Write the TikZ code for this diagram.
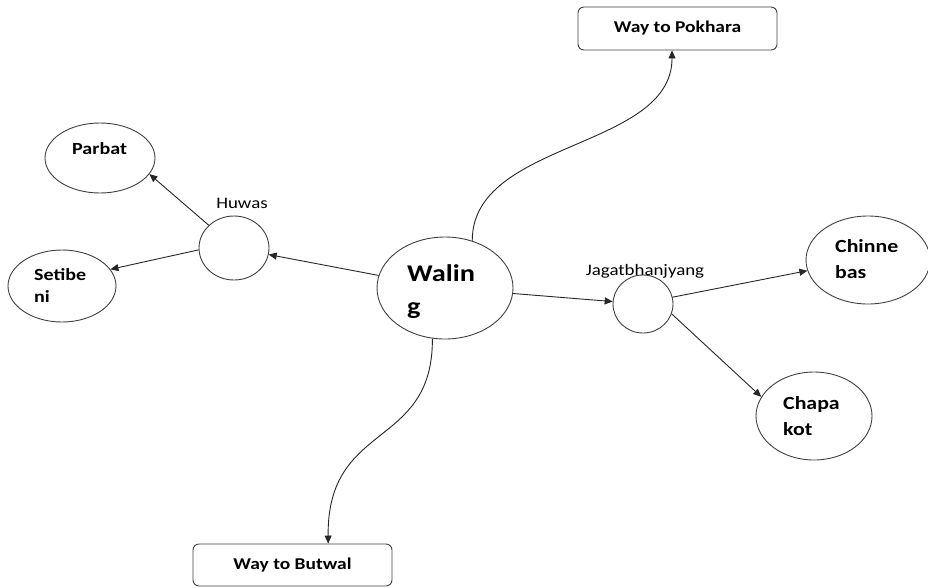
\documentclass[tikz,border=0pt]{standalone}
\usepackage{fontspec}
\setmainfont{Carlito}[FakeStretch=1.18]
\usetikzlibrary{arrows.meta,shapes.geometric}
\begin{document}
\begin{tikzpicture}[x=1pt,y=-1pt,
  outline/.style={draw=black!75, line width=0.9pt},
  place/.style={ellipse, outline, inner sep=0pt},
  road/.style={rectangle, rounded corners=6pt, outline, minimum width=199pt, minimum height=43pt, font=\bfseries\fontsize{16.5}{19}\selectfont},
  boldlabel/.style={anchor=west, inner sep=0pt, align=left},
  plainlabel/.style={inner sep=0pt, font=\fontsize{16}{19}\selectfont},
  link/.style={draw=black!85, line width=0.9pt, -{Triangle[length=8pt,width=7pt]}}]
\useasboundingbox (0,0) rectangle (928,587);

% boxes
\node[road] (pok) at (677.5,28.5) {Way to Pokhara};
\node[road, minimum height=42pt] (but) at (292.5,565) {Way to Butwal};

% ellipses
\node[place, minimum width=110pt, minimum height=70pt] (par) at (100,158) {};
\node[place, minimum width=70pt, minimum height=64pt] (huw) at (234,248) {};
\node[place, minimum width=108pt, minimum height=72pt] (set) at (62,286) {};
\node[place, minimum width=136pt, minimum height=102pt] (wal) at (445,288) {};
\node[place, minimum width=60pt, minimum height=58pt] (jag) at (643,304) {};
\node[place, minimum width=124pt, minimum height=88pt] (chi) at (868,260) {};
\node[place, minimum width=116pt, minimum height=88pt] (cha) at (814,416) {};

% texts
\node[boldlabel, font=\bfseries\fontsize{17}{20}\selectfont] (tpar) at (72,149) {Parbat};
\node[boldlabel, font=\bfseries\fontsize{17}{22}\selectfont] (tset) at (34,286) {Setibe\\ni};
\node[boldlabel, font=\bfseries\fontsize{24}{33}\selectfont] (twal) at (407,292) {Walin\\g};
\node[boldlabel, font=\bfseries\fontsize{18.5}{26}\selectfont] (tchi) at (835,259) {Chinne\\bas};
\node[boldlabel, font=\bfseries\fontsize{18.5}{26}\selectfont] (tcha) at (783,416) {Chapa\\kot};
\node[plainlabel] (thuw) at (242,203) {Huwas};
\node[plainlabel] (tjag) at (645,271) {Jagatbhanjyang};

% connectors
\draw[link] (wal) -- (huw);
\draw[link] (huw.138) -- (par.-18);
\draw[link] (huw.183) -- (set.19);
\draw[link] (wal) -- (jag);
\draw[link] (jag.13) -- (chi.190);
\draw[link] (jag.-19) -- (cha.160);
\draw[link] (wal.60) .. controls (472,140) and (672,150) .. (pok.-104);
\draw[link] (wal.-104) .. controls (433,450) and (327,420) .. (but.31);
\end{tikzpicture}
\end{document}
